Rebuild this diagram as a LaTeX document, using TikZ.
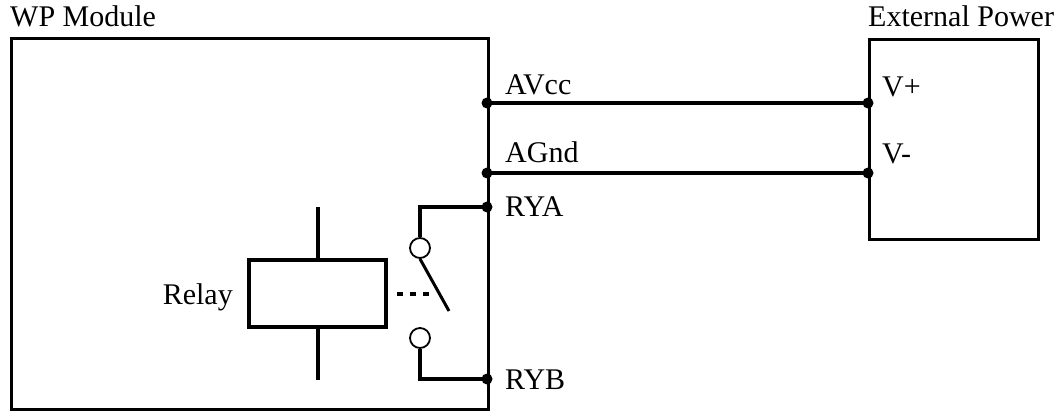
\documentclass[tikz,border=0pt]{standalone}
\usepackage{fontspec}
\setmainfont{Liberation Serif}
\begin{document}
\begin{tikzpicture}[x=1pt,y=-1pt,
  wire/.style={line width=3.4pt},
  lbl/.style={inner sep=0pt,anchor=base west,font=\fontsize{30}{36}\selectfont},
  pin/.style={circle,fill=black,inner sep=0pt,minimum size=11pt},
  boxstyle/.style={draw,line width=3.4pt,inner sep=0pt,anchor=north west},
  contact/.style={circle,draw,fill=white,line width=1.8pt,inner sep=0pt,minimum size=20pt}]
\useasboundingbox (0,0) rectangle (1063,414);
% boxes
\node[boxstyle,minimum width=477pt,minimum height=371pt] (wp) at (10,37) {};
\node[boxstyle,minimum width=169pt,minimum height=200pt] (ext) at (868,38) {};
\node[lbl] (wplbl) at (10,27) {WP Module};
\node[lbl] (extlbl) at (868,27) {External Power};
% pins
\coordinate (avcc) at (487,103);
\coordinate (agnd) at (487,173);
\coordinate (rya) at (487,207);
\coordinate (ryb) at (487,379);
\coordinate (vp) at (868,103);
\coordinate (vm) at (868,173);
\draw[wire] (avcc) -- (vp);
\draw[wire] (agnd) -- (vm);
\node[lbl] (avcclbl) at (505,95) {AVcc};
\node[lbl] (agndlbl) at (505,163) {AGnd};
\node[lbl] (ryalbl) at (505,217) {RYA};
\node[lbl] (ryblbl) at (505,389) {RYB};
\node[lbl] (vplbl) at (882,97) {V+};
\node[lbl] (vmlbl) at (882,164) {V-};
% relay coil
\node[draw,line width=3.4pt,inner sep=0pt,minimum width=137pt,minimum height=67pt] (coil) at (317.5,293.5) {};
\coordinate (coiltop) at (318,207);
\coordinate (coilbot) at (318,380);
\draw[wire] (coiltop) -- (coil.north -| coiltop);
\draw[wire] (coil.south -| coilbot) -- (coilbot);
\node[lbl,anchor=base east] (relaylbl) at (233,304) {Relay};
% switch
\node[contact] (c1) at (420,248) {};
\node[contact] (c2) at (420,338) {};
\coordinate (ca) at (420,207);
\coordinate (cb) at (420,379);
\draw[wire] (rya) -- (ca) -- (c1.north);
\draw[wire] (c2.south) -- (cb) -- (ryb);
\coordinate (levend) at (449,311);
\draw[line width=3pt] (c1.south) -- (levend);
\coordinate (dashs) at (397,294);
\coordinate (dashe) at (430,294);
\draw[line width=3.4pt,dash pattern=on 6pt off 7pt] (dashs) -- (dashe);
% pin dots
\foreach \p in {avcc,agnd,rya,ryb,vp,vm} \node[pin] at (\p) {};
\end{tikzpicture}
\end{document}
